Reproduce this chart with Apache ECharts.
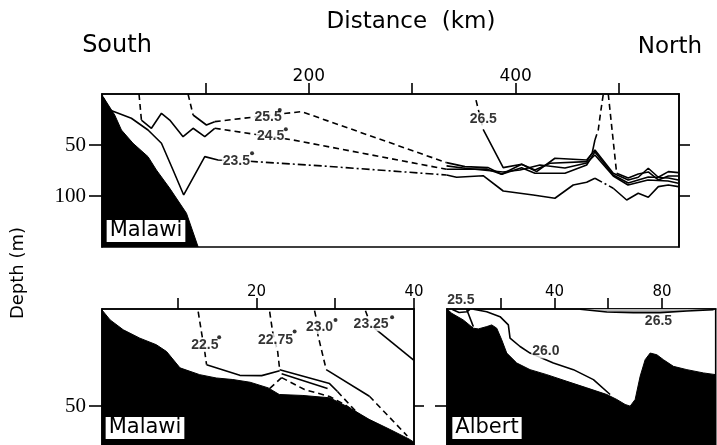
<!DOCTYPE html>
<html>
<head>
<meta charset="utf-8">
<script src="https://cdn.jsdelivr.net/npm/echarts@6/dist/echarts.min.js"></script>
<style>
  html, body { margin: 0; padding: 0; background: #fff; }
  #chart { width: 717px; height: 445px; }
</style>
</head>
<body>
<div id="chart"></div>
<script>
// ===== Lake Malawi, south–north section (distance km, depth m) =====
const malawiBottom = [[0,0],[1,2.6],[12.3,20.6],[18.8,35.3],[30,48.3],[44.5,61.4],[52.6,74.5],[65.5,92.4],[81.7,116.9],[93,150]];

// 23.5 isotherm
const t235SolidA   = [[1,3.2],[7.5,15.7],[28.4,23.8],[44.5,35.3],[57.5,48.3],[68.7,74.5],[79,99],[99.4,61.4],[112.2,64.7],[118,65]];
const t235DashDotA = [[143,66],[213.9,70.6],[333.2,79.4]];
const t235SolidB   = [[333.2,79.4],[342.9,81.6],[368.6,80.1],[388,95.1],[417,99],[438,102.2],[455.7,89.2],[468.7,86.5],[476.7,82.6]];
const t235DashDotB = [[476.7,82.6],[494.4,92.4]];
const t235SolidC   = [[494.4,92.4],[507.4,103.9],[518.6,97.3],[528.3,101.2],[538,90.8],[547.7,89.2],[557.4,90.8]];

// 24.5 isotherm
const t245DashTop = [[35.8,0],[38.1,25.5]];
const t245SolidA  = [[38.1,25.5],[47.8,33.6],[57.5,18.9],[65.5,25.5],[78.4,41.8],[88.1,33.6],[99.4,41.8],[109,33.6]];
const t245Dash    = [[109,33.6],[184.8,45.1],[333.2,73.8]];
const t245SolidB  = [[333.2,73.8],[371.9,73.5],[386.5,78.7],[405.8,72.2],[418.7,77.7],[447.7,77.7],[468.7,69.6],[476.7,56.8],[494.4,79.4],[508.9,87.2],[528.3,81.3],[547.7,82.3],[557.4,84.3]];

// 25.5 isotherm
const t255DashTop = [[83.2,0],[88.1,20.6]];
const t255SolidA  = [[88.1,20.6],[101,30.4],[109,27.1]];
const t255Dash    = [[109,27.1],[178.4,18.9],[193,17.3],[333.2,67.3]];
const t255SolidB  = [[333.2,67.3],[351,71.2],[373.5,72.2],[386.5,78.7],[405.8,68.9],[420.3,76.1],[438,63],[468.7,64.7],[476.7,54.9],[494.4,77.7],[508.9,84.3],[518.6,81.6],[528.3,72.8],[538,81.6],[547.7,76.1],[557.4,77.1]];

// unlabelled isotherm inside the northern thermocline
const tMid = [[333.2,70.5],[351,72.8],[387.7,76.4],[404.2,74.5],[423.5,69.6],[447.7,72.5],[468.7,67.6],[476.7,59.8],[494.4,80.4],[508.7,89.2],[528,84.3],[547.4,85.3],[557.4,87.5]];

// 26.5 isotherm
const t265DashTop  = [[361.7,6],[368.6,34.6]];
const t265SolidA   = [[368.6,34.6],[388,72.2],[405.8,68.9],[418.7,74.5],[433.2,67.9],[468.7,66.3],[474,58],[476.7,45.1]];
const t265DashUp   = [[476.7,45.1],[479.9,35.3],[482.5,15.7],[484.8,0]];
const t265DashDown = [[489.6,0],[497.7,77.7]];
const t265SolidB   = [[497.7,77.7],[508.9,82.3],[518.6,78.4],[528.3,76.4],[538,84.3],[547.7,80.4],[557.4,80.4]];

const topLabels = [[160.6,23,'25.5'],[163,41,'24.5'],[130,65.5,'23.5'],[368.7,24.7,'26.5']];
const topDots   = [[171.9,15.7],[177.8,34.6],[145.1,58.1]];

// ===== Lake Malawi, near-shore section (distance km, depth m) =====
const shoreBottom = [[0.4,0.5],[1.43,5.6],[3.1,10.7],[5.2,15],[7.3,18.4],[8.6,21.9],[10.3,30.3],[12.8,33.8],[14.9,35.5],[17,36.3],[19.2,37.7],[21.5,40.6],[22.9,44],[25.9,44.5],[29.3,45.7],[31.8,50.8],[34.3,56.8],[36.9,61.9],[39.4,67],[40,68.6]];

const s225Dash    = [[12.61,1.38],[13.04,12.28],[13.46,22.5],[13.67,28.66]];
const s225Solid   = [[13.67,28.66],[17.89,34.14],[20.67,34.29],[22.95,31.73]];
const s2275Dash   = [[21.68,1.38],[22.06,11.77],[22.7,22],[22.95,31.22]];
const s2275SolidA = [[22.95,31.22],[29.28,38.39],[30.29,42.48]];
const s2275SolidB = [[23.2,33.27],[29.03,40.94]];
const s2275DashA  = [[23.2,35.31],[21.68,40.94]];
const s2275DashB  = [[23.2,35.31],[26.11,41.46],[29.28,45.04],[31.18,49.13],[32.82,53.74]];
const s2275DashC  = [[30.29,42.48],[33.33,55.79]];
const s230Dash    = [[27.38,0.87],[27.59,4.76],[27.8,13.31],[28.86,31.22]];
const s230Solid   = [[28.86,31.22],[34.34,44.88]];
const s230Dash2   = [[34.34,44.88],[39.15,65.36]];
const s2325Dash   = [[33.84,0.87],[34.3,6]];
const s2325Solid  = [[34.97,9.88],[40,26.5]];

const shoreLabels = [[13.46,18.58,'22.5'],[22.42,16.12,'22.75'],[28.01,9.31,'23.0'],[34.56,7.83,'23.25']];
const shoreDots   = [[15.27,14.48],[24.85,11.62],[30.04,5.63],[37.22,4.25]];

// ===== Lake Albert section (distance km, depth m) =====
const albertBottom = [[0.1,0.15],[1.75,2.2],[6.07,5.63],[9.8,9.88],[11.66,10.24],[14.79,9.06],[16.65,8.19],[18.51,9.88],[20.37,15.87],[22.23,22.67],[25.96,27.79],[30.91,31.22],[37.13,33.78],[44.58,37.21],[52.03,40.59],[59.48,44.01],[63.2,46.57],[66.29,49.13],[68.16,50],[70.02,46.57],[71.88,34.65],[73.74,26.1],[75.61,22.67],[78.1,23.54],[80.56,26.1],[84.28,29.53],[89.27,31.22],[95.46,32.91],[100,33.78]];
const a255Line = [[7.3,0.15],[9.8,9.06]];
const a255Lens = [[2,0.3],[4.5,1.8],[7.5,1.4],[8.5,0.2]];
const a260Line = [[9.8,0.15],[14.79,1.38],[19.74,3.94],[22.83,8.19],[23.46,15],[27.19,19.3],[30.91,22.67],[39.59,27.79],[47.04,31.22],[54.49,36.34],[60.71,44.01]];
const a265Lens = [[49.53,0.15],[59.48,1.54],[69.4,1.88],[79.3,1.88],[89.3,1.02],[99.2,0.35]];
const albertLabels = [[5.14,-4.6,'25.5'],[36.8,21.85,'26.0'],[78.7,6.5,'26.5']];

// tick positions and tick labels
const topTicks = [100,200,300,400,500],   topTickLabels = [200,400];
const shoreTicks = [10,20,30,40],         shoreTickLabels = [20,40];
const albertTicks = [20,40,60,80],        albertTickLabels = [40,80];
const topDepthTicks = [50,100];
const lowDepthTicks = [50];

const INK = '#000';
const SANS = 'DejaVu Sans';
const SOLID = 'solid', DASH = [6,4], DASHDOT = [8,3,2,3];

function yIndex(grid) { return grid === 0 ? 0 : (grid === 1 ? 2 : 4); }
function iso(data, grid, type) {
  return {
    type: 'line', data, xAxisIndex: grid, yAxisIndex: yIndex(grid),
    symbol: 'none', silent: true, z: 3,
    lineStyle: { color: INK, width: 1.6, type }
  };
}
function bottom(data, grid) {
  return {
    type: 'line', data, xAxisIndex: grid, yAxisIndex: yIndex(grid),
    symbol: 'none', silent: true, z: 2,
    lineStyle: { color: '#000', width: 1 },
    areaStyle: { color: '#000', opacity: 1, origin: 'end' }
  };
}
function labels(data, grid) {
  return {
    type: 'scatter', data, xAxisIndex: grid, yAxisIndex: yIndex(grid),
    symbolSize: 1, itemStyle: { color: 'rgba(0,0,0,0)' }, clip: false, silent: true, z: 6,
    label: {
      show: true, position: 'inside', formatter: p => p.value[2],
      fontFamily: 'Liberation Sans', fontWeight: 'bold', fontSize: 14, color: '#000',
      backgroundColor: '#fff', padding: [0, 1]
    }
  };
}
function dots(data, grid) {
  return {
    type: 'scatter', data, xAxisIndex: grid, yAxisIndex: yIndex(grid),
    symbol: 'circle', symbolSize: 4, itemStyle: { color: '#000' }, silent: true, z: 7
  };
}
function xAxis(grid, min, max, ticks, tickLabels, fontSize) {
  return {
    gridIndex: grid, type: 'value', position: 'top', min, max,
    axisLine: { show: true, lineStyle: { color: INK, width: 1.6 } },
    splitLine: { show: false },
    axisTick: { show: true, inside: false, length: 11, customValues: ticks, lineStyle: { color: INK, width: 1.6 } },
    axisLabel: { show: true, customValues: tickLabels, fontFamily: SANS, fontSize, color: '#000', margin: 9 }
  };
}
function yAxis(grid, max, pos, ticks, tickLabels, len) {
  return {
    gridIndex: grid, type: 'value', inverse: true, min: 0, max, position: pos,
    axisLine: { show: true, lineStyle: { color: INK, width: 1.6 } },
    splitLine: { show: false },
    axisTick: { show: true, inside: false, length: len, customValues: ticks, lineStyle: { color: INK, width: 1.6 } },
    axisLabel: tickLabels
      ? { show: true, customValues: tickLabels, fontFamily: 'Liberation Serif', fontSize: 21, color: '#000', margin: 16 }
      : { show: false }
  };
}

const option = {
  animation: false,
  backgroundColor: '#fff',
  grid: [
    { left: 102, top: 94, width: 577, height: 153, show: true, borderColor: INK, borderWidth: 1.6, containLabel: false },
    { left: 102, top: 309, width: 312, height: 136.8, show: true, borderColor: INK, borderWidth: 1.6, containLabel: false },
    { left: 447, top: 309, width: 268.7, height: 136.8, show: true, borderColor: INK, borderWidth: 1.6, containLabel: false }
  ],
  xAxis: [
    xAxis(0, 0, 558, topTicks, topTickLabels, 17),
    xAxis(1, 0.4, 40, shoreTicks, shoreTickLabels, 15),
    xAxis(2, 0, 100, albertTicks, albertTickLabels, 15)
  ],
  yAxis: [
    yAxis(0, 150, 'left', topDepthTicks, topDepthTicks, 13),
    yAxis(0, 150, 'right', topDepthTicks, null, 11),
    yAxis(1, 70, 'left', lowDepthTicks, lowDepthTicks, 13),
    yAxis(1, 70, 'right', lowDepthTicks, null, 10),
    yAxis(2, 70, 'left', lowDepthTicks, null, 12)
  ],
  series: [
    bottom(malawiBottom, 0),
    iso(t235SolidA, 0, SOLID), iso(t235DashDotA, 0, DASHDOT), iso(t235SolidB, 0, SOLID),
    iso(t235DashDotB, 0, DASHDOT), iso(t235SolidC, 0, SOLID),
    iso(t245DashTop, 0, DASH), iso(t245SolidA, 0, SOLID), iso(t245Dash, 0, DASH), iso(t245SolidB, 0, SOLID),
    iso(t255DashTop, 0, DASH), iso(t255SolidA, 0, SOLID), iso(t255Dash, 0, DASH), iso(t255SolidB, 0, SOLID),
    iso(tMid, 0, SOLID),
    iso(t265DashTop, 0, DASH), iso(t265SolidA, 0, SOLID), iso(t265DashUp, 0, DASH),
    iso(t265DashDown, 0, DASH), iso(t265SolidB, 0, SOLID),
    labels(topLabels, 0), dots(topDots, 0),

    bottom(shoreBottom, 1),
    iso(s225Dash, 1, DASH), iso(s225Solid, 1, SOLID),
    iso(s2275Dash, 1, DASH), iso(s2275SolidA, 1, SOLID), iso(s2275SolidB, 1, SOLID),
    iso(s2275DashA, 1, DASH), iso(s2275DashB, 1, DASH), iso(s2275DashC, 1, DASH),
    iso(s230Dash, 1, DASH), iso(s230Solid, 1, SOLID), iso(s230Dash2, 1, DASH),
    iso(s2325Dash, 1, DASH), iso(s2325Solid, 1, SOLID),
    labels(shoreLabels, 1), dots(shoreDots, 1),

    bottom(albertBottom, 2),
    iso(a255Line, 2, SOLID), iso(a255Lens, 2, SOLID), iso(a260Line, 2, SOLID),
    Object.assign(iso(a265Lens, 2, SOLID), { areaStyle: { color: '#bbb', opacity: 1, origin: 'start' } }),
    labels(albertLabels, 2)
  ],
  graphic: [
    { type: 'text', style: { text: 'Distance  (km)', x: 411, y: 22, align: 'center', verticalAlign: 'middle', font: '23px "DejaVu Sans"', fill: '#000' } },
    { type: 'text', style: { text: 'South', x: 117, y: 46, align: 'center', verticalAlign: 'middle', font: '24px "DejaVu Sans"', fill: '#000' } },
    { type: 'text', style: { text: 'North', x: 670, y: 47, align: 'center', verticalAlign: 'middle', font: '23px "DejaVu Sans"', fill: '#000' } },
    { type: 'text', x: 18, y: 273, rotation: Math.PI / 2, style: { text: 'Depth (m)', x: 0, y: 0, align: 'center', verticalAlign: 'middle', font: '18px "DejaVu Sans"', fill: '#000' } },
    { type: 'text', z: 100, style: { text: 'Malawi', x: 146, y: 231, align: 'center', verticalAlign: 'middle', font: '21px "DejaVu Sans"', fill: '#000', backgroundColor: '#fff', padding: [1, 3, 0, 3] } },
    { type: 'text', z: 100, style: { text: 'Malawi', x: 145, y: 428, align: 'center', verticalAlign: 'middle', font: '21px "DejaVu Sans"', fill: '#000', backgroundColor: '#fff', padding: [1, 3, 0, 3] } },
    { type: 'text', z: 100, style: { text: 'Albert', x: 487, y: 428, align: 'center', verticalAlign: 'middle', font: '21px "DejaVu Sans"', fill: '#000', backgroundColor: '#fff', padding: [1, 3, 0, 3] } }
  ]
};

const chart = echarts.init(document.getElementById('chart'), null, { renderer: 'canvas' });
chart.setOption(option);
</script>
</body>
</html>
